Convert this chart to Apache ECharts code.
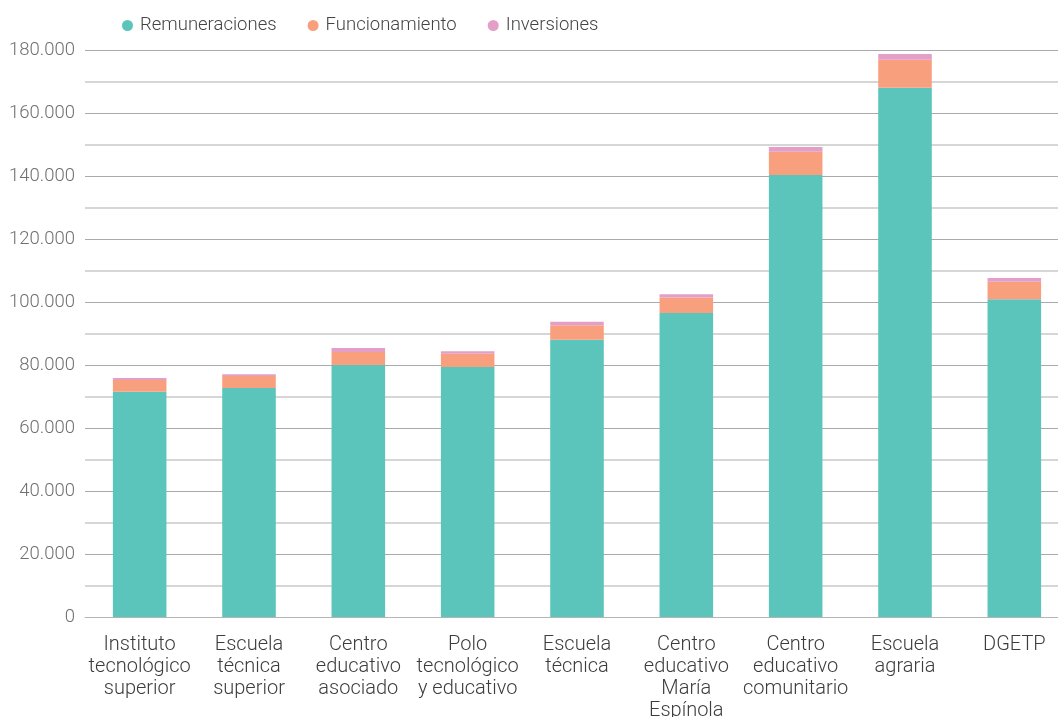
<!DOCTYPE html>
<html>
<head>
<meta charset="utf-8">
<script src="https://cdn.jsdelivr.net/npm/echarts@6/dist/echarts.min.js"></script>
<style>
html,body{margin:0;padding:0;background:#fff;}
#chart{width:1058px;height:717px;}
</style>
</head>
<body>
<div id="chart"></div>
<script>
const categories = [
  "Instituto\ntecnológico\nsuperior",
  "Escuela\ntécnica\nsuperior",
  "Centro\neducativo\nasociado",
  "Polo\ntecnológico\ny educativo",
  "Escuela\ntécnica",
  "Centro\neducativo\nMaría\nEspínola",
  "Centro\neducativo\ncomunitario",
  "Escuela\nagraria",
  "DGETP"
];
const remuneraciones = [71500, 72700, 80000, 79400, 88000, 96500, 140300, 168000, 100900];
const funcionamiento = [3700, 3800, 4100, 4200, 4600, 4900, 7400, 8900, 5500];
const inversiones = [700, 600, 1300, 800, 1100, 1100, 1500, 1800, 1200];
const seriesNames = ["Remuneraciones", "Funcionamiento", "Inversiones"];
const colors = ["#5BC5BC", "#F8A07E", "#E39FC8"];

const chart = echarts.init(document.getElementById('chart'), null, {renderer: 'canvas'});
const font = "Roboto";
function fmt(v){ return v === 0 ? "0" : String(v).replace(/\B(?=(\d{3})+(?!\d))/g, "."); }
chart.setOption({
  animation: false,
  color: colors,
  textStyle: {fontFamily: font},
  legend: {
    left: 122, top: 16, padding: 0,
    icon: 'circle', itemWidth: 11, itemHeight: 11, itemGap: 31,
    textStyle: {fontFamily: font, fontWeight: 300, fontSize: 18.5, color: '#444', padding: [0,0,0,2]},
    data: seriesNames
  },
  grid: {left: 85, right: -11, top: 50, bottom: 100, containLabel: false, outerBoundsMode: 'none'},
  xAxis: {
    type: 'category', data: categories,
    axisTick: {show: false},
    axisLine: {lineStyle: {color: '#b5b5b5', width: 1}},
    axisLabel: {interval: 0, margin: 17, fontFamily: font, fontWeight: 300, fontSize: 20, lineHeight: 22, color: '#3c3c3c'}
  },
  yAxis: {
    type: 'value', min: 0, max: 180000, interval: 20000,
    axisLabel: {formatter: fmt, margin: 10, fontFamily: font, fontWeight: 300, fontSize: 18.5, color: '#707070'},
    splitLine: {lineStyle: {color: '#aaaaaa', width: 1}},
    minorTick: {show: false, splitNumber: 2},
    minorSplitLine: {show: true, lineStyle: {color: '#d6d6d6', width: 2}},
    axisLine: {show: false}, axisTick: {show: false}
  },
  series: [
    {name: seriesNames[0], type: 'bar', stack: 's', data: remuneraciones, barWidth: '49%'},
    {name: seriesNames[1], type: 'bar', stack: 's', data: funcionamiento},
    {name: seriesNames[2], type: 'bar', stack: 's', data: inversiones}
  ]
});
</script>
</body>
</html>
